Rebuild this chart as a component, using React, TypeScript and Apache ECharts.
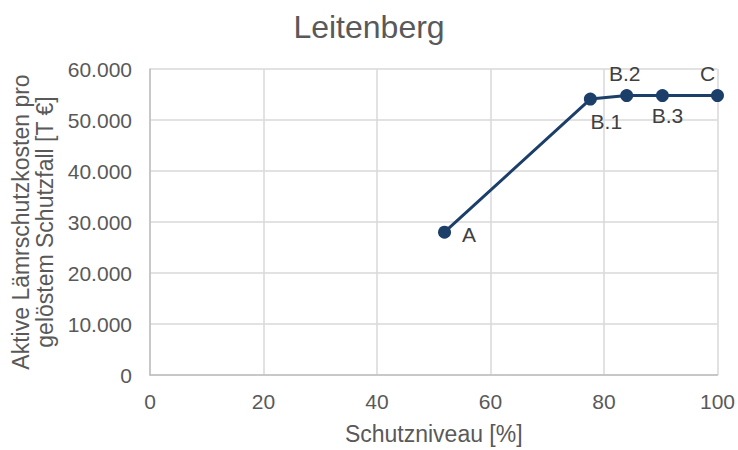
import React, { useEffect, useRef } from "react";
import * as echarts from "echarts";

const pointLabels = ["A", "B.1", "B.2", "B.3", "C"];
const schutzniveau = [51.9, 77.6, 84.0, 90.3, 100];
const kosten = [28000, 54100, 54800, 54800, 54800];
const labelPositions = ["right", "bottom", "top", "bottom", "top"];
const labelOffsets = [[6, 2], [16, 0], [-2, 0], [5, -2], [-10, 0]];

const fmt = (v: number) => String(v).replace(/\B(?=(\d{3})+(?!\d))/g, ".");

export default function App() {
  const ref = useRef<HTMLDivElement>(null);
  useEffect(() => {
    const chart = echarts.init(ref.current!, null, { renderer: "svg" });
    const font = "'Liberation Sans', Arial, sans-serif";
    chart.setOption({
      animation: false,
      title: {
        text: "Leitenberg",
        left: "center",
        top: 6,
        textStyle: { fontFamily: font, fontSize: 32, fontWeight: "normal", color: "#595959" },
      },
      grid: { left: 150, right: 20, top: 69, bottom: 74 },
      xAxis: {
        type: "value",
        min: 0,
        max: 100,
        interval: 20,
        name: "Schutzniveau [%]",
        nameLocation: "middle",
        nameGap: 47,
        nameTextStyle: { fontFamily: font, fontSize: 23, color: "#595959" },
        axisLine: { show: true, lineStyle: { color: "#bfbfbf", width: 1.5 } },
        axisTick: { show: false },
        axisLabel: { fontFamily: font, fontSize: 21, color: "#595959", margin: 16 },
        splitLine: { show: true, lineStyle: { color: "#d9d9d9", width: 1.5 } },
      },
      yAxis: {
        type: "value",
        min: 0,
        max: 60000,
        interval: 10000,
        name: "Aktive Lämrschutzkosten pro\ngelöstem Schutzfall [T €]",
        nameLocation: "middle",
        nameGap: 92,
        nameTextStyle: { fontFamily: font, fontSize: 23, color: "#595959", lineHeight: 24 },
        axisLine: { show: true, lineStyle: { color: "#bfbfbf", width: 1.5 } },
        axisTick: { show: false },
        axisLabel: { fontFamily: font, fontSize: 21, color: "#595959", margin: 18, formatter: (v: number) => fmt(v) },
        splitLine: { show: true, lineStyle: { color: "#d9d9d9", width: 1.5 } },
      },
      series: [
        {
          type: "line",
          data: schutzniveau.map((x, i) => ({
            value: [x, kosten[i]],
            label: { show: true, position: labelPositions[i], offset: labelOffsets[i], formatter: pointLabels[i] },
          })),
          symbol: "circle",
          symbolSize: 13,
          lineStyle: { color: "#1c3f6a", width: 3 },
          itemStyle: { color: "#1c3f6a" },
          label: { fontFamily: font, fontSize: 21, color: "#404040", distance: 5 },
        },
      ],
    });
    return () => chart.dispose();
  }, []);
  return <div ref={ref} style={{ position: "absolute", left: 0, top: 0, width: 738, height: 450 }} />;
}
